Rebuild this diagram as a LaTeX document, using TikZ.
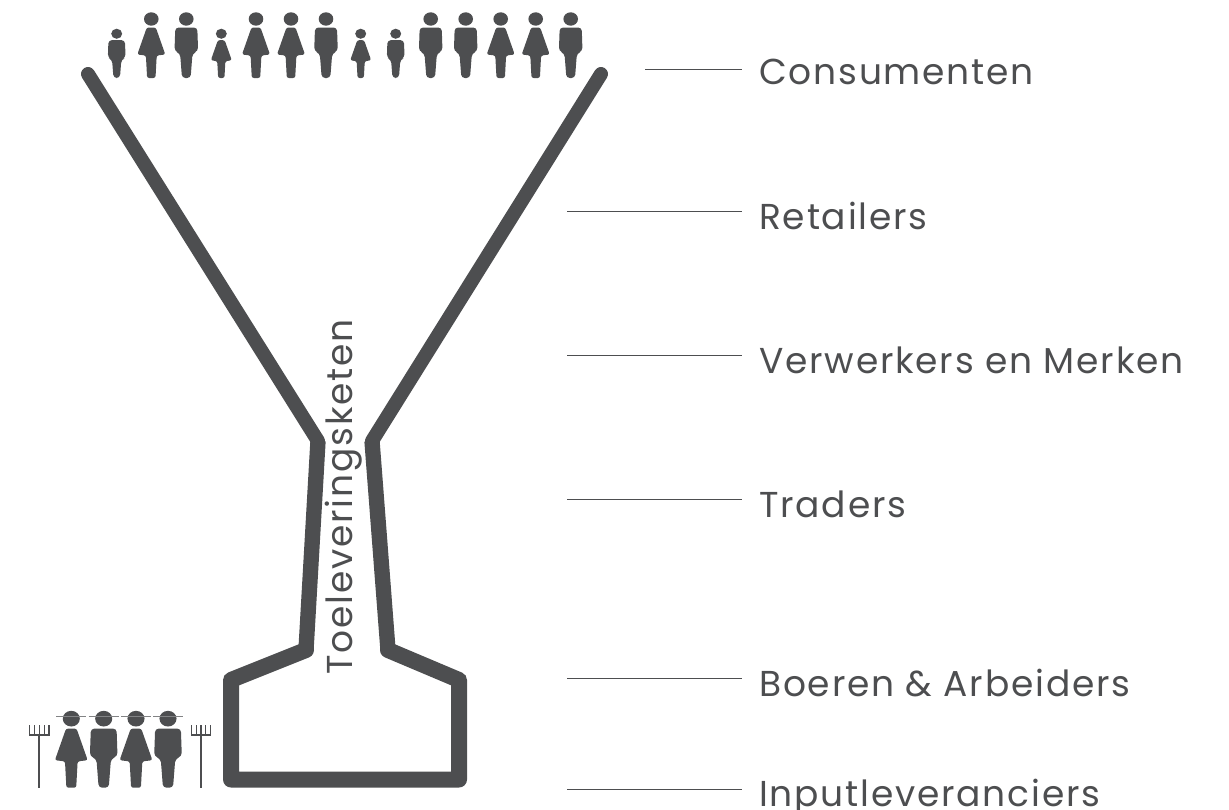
\documentclass[tikz,border=0pt]{standalone}
\usepackage{fontspec}
\setmainfont[LetterSpace=5]{Poppins}
\definecolor{ink}{HTML}{4D4E50}
\tikzset{
  x=0.75pt,y=-0.75pt,
  funnel/.style={draw=ink,line join=round,line cap=round},
  leader/.style={draw=ink,line width=0.75pt},
  lab/.style={anchor=base west,text=ink,inner sep=0pt,font=\fontsize{27}{30}\selectfont},
  pics/woman/.style={code={
    \fill[ink] (0,-59) ellipse [x radius=7.3,y radius=6.7];
    \fill[ink,rounded corners=1.6pt] (-4.5,-50.5) -- (4.5,-50.5) -- (14,-23.5) -- (5.4,-22.5) -- (4.2,0) -- (-4.2,0) -- (-5.4,-22.5) -- (-14,-23.5) -- cycle;
  }},
  pics/man/.style={code={
    \fill[ink] (0,-59) ellipse [x radius=7.3,y radius=6.7];
    \fill[ink,rounded corners=2.6pt] (-11,-50.5) -- (11,-50.5) -- (11.8,-27) -- (6.2,-24.5) -- (4.3,0) -- (-4.3,0) -- (-6.2,-24.5) -- (-11.8,-27) -- cycle;
  }},
  pics/rake/.style={code={
    \draw[ink,line width=1.4pt] (0,-53) -- (0,0);
    \draw[ink,line width=0.8pt] (-9.7,-63) -- (-9.7,-53) -- (9.7,-53) -- (9.7,-63);
    \foreach \t in {-4.9,0,4.9} \draw[ink,line width=0.8pt] (\t,-63) -- (\t,-53);
  }},
  pics/brim/.style={code={
    \draw[ink!70,line width=1.1pt] (-15,0) -- (15,0);
  }}
}
\begin{document}
\begin{tikzpicture}
\useasboundingbox (0,0) rectangle (1229,810);
% funnel
\draw[funnel,line width=10.5pt] (88,74) -- (318,441);
\draw[funnel,line width=10.5pt] (601,74) -- (372,441);
\draw[funnel,line width=11.5pt,line cap=butt] (318,441) -- (306,650);
\draw[funnel,line width=11.5pt,line cap=butt] (372,441) -- (388,650);
\draw[funnel,line width=12pt] (306,650) -- (231,680) -- (231,779.5) -- (459,779.5) -- (459,680) -- (388,650);
% consumers
\foreach \px/\kind/\sc in {116.7/man/0.75,151.3/woman/1,186.3/man/1,221.3/woman/0.75,256/woman/1,291/woman/1,326/man/1,360.7/woman/0.75,395.7/man/0.75,430.7/man/1,465.7/man/1,500.7/woman/1,535.7/woman/1,570.7/man/1}
  \pic[scale=\sc] at (\px,78) {\kind};
% farmers
\foreach \px/\kind in {71.3/woman,103.7/man,136/woman,168/man}{
  \pic[scale=1.17] at (\px,787.7) {\kind};
  \pic at (\px,716.7) {brim};
}
\pic at (39.3,788) {rake};
\pic at (201,788) {rake};
% labels
\node[lab] (consumenten) at (759,84) {Consumenten};
\node[lab] (retailers) at (759,229) {Retailers};
\node[lab] (verwerkers) at (759,373) {Verwerkers en Merken};
\node[lab] (traders) at (759,517) {Traders};
\node[lab] (boeren) at (759,696) {Boeren \& Arbeiders};
\node[lab] (input) at (759,806) {Inputleveranciers};
\node[rotate=90,text=ink,inner sep=0pt,font=\fontsize{27}{30}\selectfont] (keten) at (344,497) {Toeleveringsketen};
% leaders
\coordinate (a1) at (645,69); \coordinate (b1) at (742,69);
\coordinate (a2) at (567,211); \coordinate (b2) at (742,211);
\coordinate (a3) at (567,355); \coordinate (b3) at (742,355);
\coordinate (a4) at (567,499); \coordinate (b4) at (742,499);
\coordinate (a5) at (567,678); \coordinate (b5) at (742,678);
\coordinate (a6) at (567,789); \coordinate (b6) at (742,789);
\foreach \i in {1,...,6} \draw[leader] (a\i) -- (b\i);
\end{tikzpicture}
\end{document}
